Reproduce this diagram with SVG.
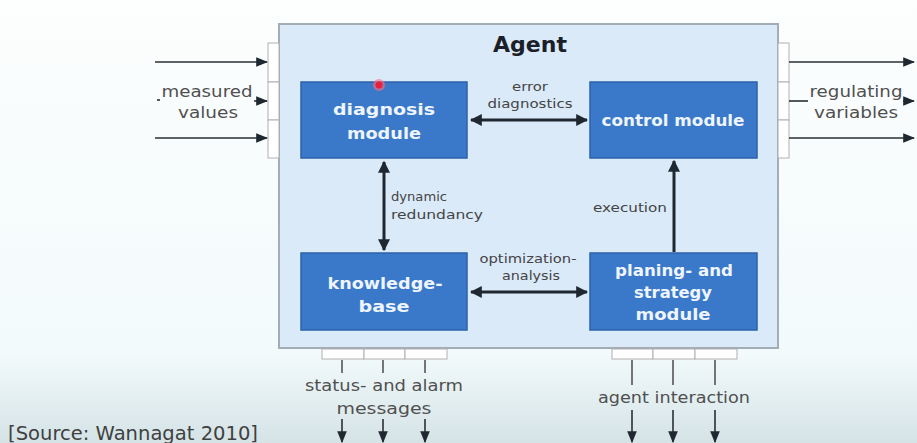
<svg xmlns="http://www.w3.org/2000/svg" width="917" height="443" viewBox="0 0 917 443">
  <defs>
    <linearGradient id="bg" x1="0" y1="0" x2="0" y2="1">
      <stop offset="0" stop-color="#fdfefe"/>
      <stop offset="0.8" stop-color="#f2fafb"/>
      <stop offset="1" stop-color="#d5e3e6"/>
    </linearGradient>
    <marker id="ah" viewBox="0 0 10 10" refX="9" refY="5" markerWidth="4" markerHeight="4" orient="auto-start-reverse">
      <path d="M0,0 L10,5 L0,10 z" fill="#1f2830"/>
    </marker>
    <marker id="ahs" viewBox="0 0 10 10" refX="9" refY="5" markerWidth="7.5" markerHeight="7.5" orient="auto">
      <path d="M0,1 L10,5 L0,9 z" fill="#1f2830"/>
    </marker>
    <style>
      .agent { fill: #dbeaf9; stroke: #a4adb5; stroke-width: 2; }
      .port { fill: #ffffff; stroke: #b0b0b0; stroke-width: 1; }
      .mod { fill: #3a79c9; stroke: #2c62a8; stroke-width: 1.5; }
      text { font-family: "DejaVu Sans", Verdana, sans-serif; }
      .mt { font-size: 16.5px; font-weight: bold; fill: #eef5ff; text-anchor: middle; }
      .lbl { font-size: 13px; fill: #444; text-anchor: middle; }
      .lbl.l { text-anchor: start; }
      .lbl.r { text-anchor: end; }
      .ext { font-size: 16px; fill: #505050; text-anchor: middle; }
      .arr { stroke: #1f2830; stroke-width: 3; fill: none; }
      .thin { stroke: #2a2f35; stroke-width: 1.6; fill: none; }
      .tick { stroke: #555; stroke-width: 1.6; fill: none; }
    </style>
  </defs>

  <rect x="0" y="0" width="917" height="443" fill="url(#bg)"/>

  <!-- agent frame -->
  <g id="agent">
    <rect class="agent" x="279" y="24" width="499" height="324"/>
    <text x="530" y="52" font-family="Liberation Sans, Arial, sans-serif" font-size="21" font-weight="bold" fill="#1a1f28" text-anchor="middle" textLength="74" lengthAdjust="spacingAndGlyphs">Agent</text>
  </g>

  <!-- ports -->
  <g id="ports">
    <rect class="port" x="268" y="43" width="11" height="39"/>
    <rect class="port" x="268" y="82" width="11" height="38"/>
    <rect class="port" x="268" y="120" width="11" height="38"/>
    <rect class="port" x="778" y="43" width="11" height="39"/>
    <rect class="port" x="778" y="82" width="11" height="38"/>
    <rect class="port" x="778" y="120" width="11" height="38"/>
    <rect class="port" x="322" y="349" width="42" height="10"/>
    <rect class="port" x="364" y="349" width="41" height="10"/>
    <rect class="port" x="405" y="349" width="42" height="10"/>
    <rect class="port" x="612" y="349" width="41" height="10"/>
    <rect class="port" x="653" y="349" width="42" height="10"/>
    <rect class="port" x="695" y="349" width="42" height="10"/>
  </g>

  <!-- modules -->
  <g id="diagnosis">
    <rect class="mod" x="301" y="82" width="166" height="76"/>
    <text class="mt" x="384" y="115" textLength="102" lengthAdjust="spacingAndGlyphs">diagnosis</text>
    <text class="mt" x="384" y="139" textLength="74" lengthAdjust="spacingAndGlyphs">module</text>
  </g>
  <g id="control">
    <rect class="mod" x="590" y="82" width="167" height="76"/>
    <text class="mt" x="673" y="126" textLength="143" lengthAdjust="spacingAndGlyphs">control module</text>
  </g>
  <g id="knowledge">
    <rect class="mod" x="301" y="253" width="166" height="77"/>
    <text class="mt" x="385" y="289" textLength="115" lengthAdjust="spacingAndGlyphs">knowledge-</text>
    <text class="mt" x="384" y="312" textLength="51" lengthAdjust="spacingAndGlyphs">base</text>
  </g>
  <g id="planning">
    <rect class="mod" x="590" y="253" width="167" height="77"/>
    <text class="mt" x="674" y="276" textLength="118" lengthAdjust="spacingAndGlyphs">planing- and</text>
    <text class="mt" x="673" y="298" textLength="78" lengthAdjust="spacingAndGlyphs">strategy</text>
    <text class="mt" x="673" y="320" textLength="75" lengthAdjust="spacingAndGlyphs">module</text>
  </g>

  <!-- connectors -->
  <g id="connectors">
    <line class="arr" x1="471" y1="120" x2="587" y2="120" marker-start="url(#ah)" marker-end="url(#ah)"/>
    <line class="arr" x1="384" y1="162" x2="384" y2="250" marker-start="url(#ah)" marker-end="url(#ah)"/>
    <line class="arr" x1="471" y1="292" x2="587" y2="292" marker-start="url(#ah)" marker-end="url(#ah)"/>
    <line class="arr" x1="674" y1="252" x2="674" y2="161" marker-end="url(#ah)"/>

    <!-- inputs -->
    <line class="thin" x1="155" y1="62" x2="267" y2="62" marker-end="url(#ahs)"/>
    <line class="thin" x1="254" y1="101" x2="267" y2="101" marker-end="url(#ahs)"/>
    <line class="thin" x1="155" y1="138" x2="267" y2="138" marker-end="url(#ahs)"/>
    <line class="thin" x1="157" y1="100" x2="160" y2="100"/>

    <!-- outputs -->
    <line class="thin" x1="789" y1="62" x2="914" y2="62" marker-end="url(#ahs)"/>
    <line class="thin" x1="789" y1="101" x2="808" y2="101"/>
    <line class="thin" x1="903" y1="101" x2="914" y2="101" marker-end="url(#ahs)"/>
    <line class="thin" x1="789" y1="138" x2="914" y2="138" marker-end="url(#ahs)"/>

    <!-- status and alarm -->
    <line class="tick" x1="342" y1="360" x2="342" y2="373"/>
    <line class="tick" x1="383" y1="360" x2="383" y2="373"/>
    <line class="tick" x1="425" y1="360" x2="425" y2="373"/>
    <line class="thin" x1="342" y1="419" x2="342" y2="442" marker-end="url(#ahs)"/>
    <line class="thin" x1="383" y1="419" x2="383" y2="442" marker-end="url(#ahs)"/>
    <line class="thin" x1="425" y1="419" x2="425" y2="442" marker-end="url(#ahs)"/>

    <!-- agent interaction -->
    <line class="tick" x1="632" y1="360" x2="632" y2="385"/>
    <line class="tick" x1="673" y1="360" x2="673" y2="385"/>
    <line class="tick" x1="715" y1="360" x2="715" y2="385"/>
    <line class="thin" x1="632" y1="410" x2="632" y2="442" marker-end="url(#ahs)"/>
    <line class="thin" x1="673" y1="410" x2="673" y2="442" marker-end="url(#ahs)"/>
    <line class="thin" x1="715" y1="410" x2="715" y2="442" marker-end="url(#ahs)"/>
  </g>

  <!-- connector labels -->
  <g id="labels">
    <text class="lbl" x="530" y="91" textLength="36" lengthAdjust="spacingAndGlyphs">error</text>
    <text class="lbl" x="530" y="108" textLength="85" lengthAdjust="spacingAndGlyphs">diagnostics</text>
    <text class="lbl l" x="391" y="201" textLength="56" lengthAdjust="spacingAndGlyphs">dynamic</text>
    <text class="lbl l" x="391" y="219" textLength="92" lengthAdjust="spacingAndGlyphs">redundancy</text>
    <text class="lbl" x="528" y="263" textLength="97" lengthAdjust="spacingAndGlyphs">optimization-</text>
    <text class="lbl" x="531" y="280" textLength="58" lengthAdjust="spacingAndGlyphs">analysis</text>
    <text class="lbl r" x="667" y="212" textLength="74" lengthAdjust="spacingAndGlyphs">execution</text>

    <text class="ext" x="207" y="97" textLength="91" lengthAdjust="spacingAndGlyphs">measured</text>
    <text class="ext" x="208" y="118" textLength="60" lengthAdjust="spacingAndGlyphs">values</text>
    <text class="ext" x="856" y="97" textLength="93" lengthAdjust="spacingAndGlyphs">regulating</text>
    <text class="ext" x="856" y="118" textLength="84" lengthAdjust="spacingAndGlyphs">variables</text>
    <text class="ext" x="384" y="391" textLength="158" lengthAdjust="spacingAndGlyphs">status- and alarm</text>
    <text class="ext" x="384" y="414" textLength="95" lengthAdjust="spacingAndGlyphs">messages</text>
    <text class="ext" x="674" y="403" textLength="152" lengthAdjust="spacingAndGlyphs">agent interaction</text>
  </g>

  <text x="8" y="440" font-family="Liberation Sans, Arial, sans-serif" font-size="19" fill="#404040" textLength="250" lengthAdjust="spacingAndGlyphs">[Source: Wannagat 2010]</text>

  <!-- pointer dot -->
  <circle cx="379" cy="85" r="6" fill="#ff6b80" opacity="0.6"/>
  <circle cx="379" cy="85" r="3.5" fill="#e8203a"/>
</svg>
